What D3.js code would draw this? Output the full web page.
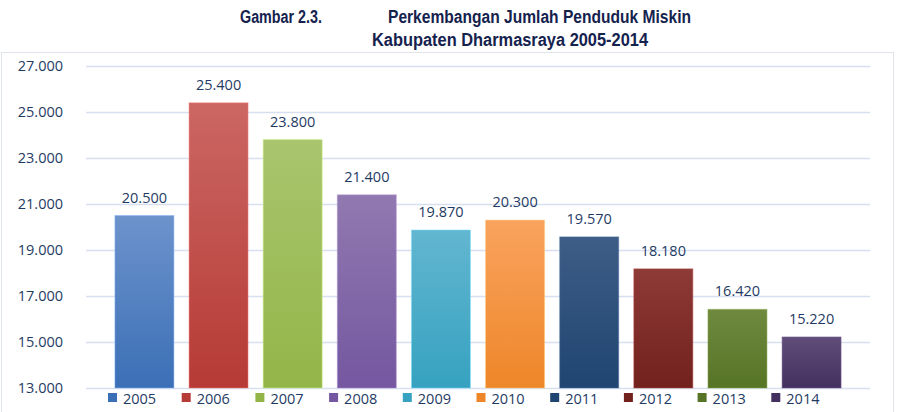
<!DOCTYPE html>
<html><head><meta charset="utf-8">
<script src="https://cdn.jsdelivr.net/npm/d3@7"></script>
<style>html,body{margin:0;padding:0;background:#fff;}svg{display:block;}</style>
</head><body>
<svg id="chart" width="900" height="412"></svg>
<script>
const categories = ["2005","2006","2007","2008","2009","2010","2011","2012","2013","2014"];
const values = [20500,25400,23800,21400,19870,20300,19570,18180,16420,15220];
const valueLabels = ["20.500","25.400","23.800","21.400","19.870","20.300","19.570","18.180","16.420","15.220"];
const yTicks = [13000,15000,17000,19000,21000,23000,25000,27000];
const yTickLabels = ["13.000","15.000","17.000","19.000","21.000","23.000","25.000","27.000"];
const topColors = ["#6d93cc","#cb6763","#a9c56e","#9179b0","#62b6d0","#f9a35e","#3e5d87","#8e3a36","#6f8a3f","#614d79"];
const bottomColors = ["#3b6fb6","#b63a35","#93b548","#7457a0","#36a2c0","#ee8629","#1f4570","#72211d","#567426","#43305f"];
const titleParts = ["Gambar 2.3.","Perkembangan Jumlah Penduduk Miskin","Kabupaten Dharmasraya 2005-2014"];

const svg = d3.select("#chart");
const defs = svg.append("defs");
const textColor = "#1f3b64";

// outer border
svg.append("rect").attr("x",1.5).attr("y",52.5).attr("width",892).attr("height",370)
  .attr("fill","none").attr("stroke","#dfe3ea").attr("stroke-width",1);

// title
const titleFont = "'Liberation Sans Narrow','Arial Narrow','Liberation Sans',Arial,sans-serif";
const tpos = [[240,23,82],[388,23,303],[372,46,276]];
titleParts.forEach((t,i)=>{
  svg.append("text").attr("x",tpos[i][0]).attr("y",tpos[i][1]).attr("font-family",titleFont)
    .attr("font-weight","bold").attr("font-size",18).attr("fill","#15224e")
    .attr("textLength",tpos[i][2]).attr("lengthAdjust","spacingAndGlyphs")
    .text(t);
});

const x = d3.scaleBand().domain(categories).range([86,870]).paddingInner(0.204).paddingOuter(0.39);
const y = d3.scaleLinear().domain([13000,27000]).range([388,66]);

const font = "'Open Sans','Noto Sans',sans-serif";

// gridlines
svg.append("g").selectAll("line").data(yTicks).join("line")
  .attr("x1",86).attr("x2",870)
  .attr("y1",d=>Math.round(y(d))+0.5).attr("y2",d=>Math.round(y(d))+0.5)
  .attr("stroke","#d6e0f0").attr("stroke-width",1.5);

// y axis labels
const yAxis = d3.axisLeft(y).tickValues(yTicks).tickFormat((d,i)=>yTickLabels[i]).tickSize(0).tickPadding(0);
const ya = svg.append("g").attr("transform","translate(63,0)").call(yAxis);
ya.select(".domain").remove();
ya.selectAll("text").attr("font-family",font).attr("font-size",14.5).attr("fill",textColor);

// gradients
categories.forEach((c,i)=>{
  const g = defs.append("linearGradient").attr("id","g"+i).attr("x1",0).attr("y1",0).attr("x2",0).attr("y2",1);
  g.append("stop").attr("offset","0%").attr("stop-color",topColors[i]);
  g.append("stop").attr("offset","100%").attr("stop-color",bottomColors[i]);
});

// bars
svg.append("g").selectAll("rect").data(values).join("rect")
  .attr("x",(d,i)=>x(categories[i]))
  .attr("y",d=>y(d))
  .attr("width",x.bandwidth())
  .attr("height",d=>y(13000)-y(d))
  .attr("fill",(d,i)=>"url(#g"+i+")")
  .attr("stroke",(d,i)=>d3.color(topColors[i]).brighter(0.6))
  .attr("stroke-opacity",0.5).attr("stroke-width",1);

// value labels
svg.append("g").selectAll("text").data(values).join("text")
  .attr("x",(d,i)=>x(categories[i])+x.bandwidth()/2)
  .attr("y",d=>y(d)-13)
  .attr("text-anchor","middle")
  .attr("font-family",font).attr("font-size",14.5).attr("fill",textColor)
  .text((d,i)=>valueLabels[i]);

// legend
const lg = svg.append("g");
categories.forEach((c,i)=>{
  const lx = 108 + i*73.7;
  lg.append("rect").attr("x",lx).attr("y",393).attr("width",9).attr("height",9).attr("fill",bottomColors[i]);
  lg.append("text").attr("x",lx+15).attr("y",403.5).attr("font-family",font).attr("font-size",14.5)
    .attr("fill",textColor).text(c);
});
</script>
</body></html>
